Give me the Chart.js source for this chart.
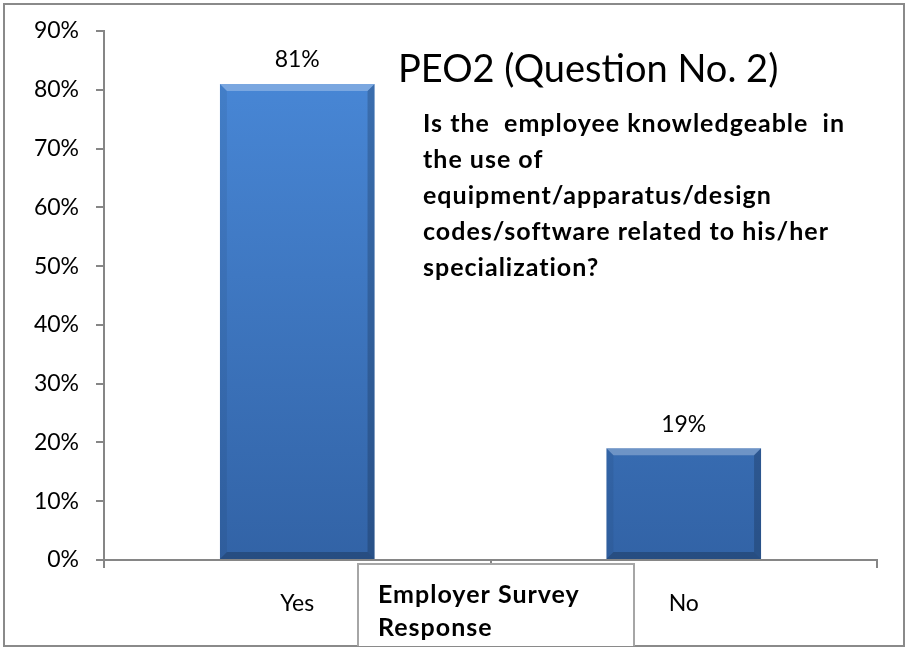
<!DOCTYPE html>
<html>
<head>
<meta charset="utf-8">
<script src="https://cdn.jsdelivr.net/npm/chart.js"></script>
<style>
  html, body { margin: 0; padding: 0; background: #fff; }
</style>
</head>
<body>
<canvas id="myChart" width="906" height="648"></canvas>
<script>
const categories = ['Yes', 'No'];
const values = [81, 19];
const yMax = 90;
const yStep = 10;
const chartTitle = 'PEO2 (Question No. 2)';
const question = [
  'Is the  employee knowledgeable  in',
  'the use of',
  'equipment/apparatus/design',
  'codes/software related to his/her',
  'specialization?'
];
const axisTitle = ['Employer Survey', 'Response'];

const FONT = 'Lato, "Open Sans", sans-serif';
const GREY = '#868686';

// frame, bar bevels, value labels, title texts and the axis title box
const decor = {
  id: 'decor',
  beforeDraw(chart) {
    const c = chart.ctx;
    c.save();
    c.fillStyle = '#fff';
    c.fillRect(0, 0, chart.width, chart.height);
    c.restore();
  },
  afterDatasetsDraw(chart) {
    const c = chart.ctx;
    const meta = chart.getDatasetMeta(0);
    c.save();
    meta.data.forEach((bar, i) => {
      const l = bar.x - bar.width / 2, r = bar.x + bar.width / 2;
      const t = bar.y, b = bar.base, k = 7;
      const poly = (pts, col) => {
        c.beginPath();
        c.moveTo(pts[0][0], pts[0][1]);
        pts.slice(1).forEach(p => c.lineTo(p[0], p[1]));
        c.closePath();
        c.fillStyle = col;
        c.fill();
      };
      poly([[l, t], [r, t], [r - k, t + k], [l + k, t + k]], 'rgba(255,255,255,0.28)');
      poly([[l, t], [l + k, t + k], [l + k, b - k], [l, b]], 'rgba(0,0,0,0.06)');
      poly([[r, t], [r - k, t + k], [r - k, b - k], [r, b]], 'rgba(0,0,0,0.18)');
      poly([[l, b], [l + k, b - k], [r - k, b - k], [r, b]], 'rgba(0,0,0,0.22)');

      c.fillStyle = '#000';
      c.font = '23px ' + FONT;
      c.textAlign = 'center';
      c.textBaseline = 'middle';
      c.fillText(values[i] + '%', bar.x, t - 24);
    });
    c.restore();
  },
  afterDraw(chart) {
    const c = chart.ctx;
    c.save();
    // outer frame
    c.strokeStyle = '#8a8a8a';
    c.lineWidth = 2;
    c.strokeRect(4, 4, 900, 642);

    // title and question
    c.fillStyle = '#000';
    c.textAlign = 'left';
    c.textBaseline = 'middle';
    c.font = '38px ' + FONT;
    c.fillText(chartTitle, 398, 70);
    c.font = 'bold 25px ' + FONT;
    c.letterSpacing = '1px';
    question.forEach((line, i) => c.fillText(line, 423, 124 + i * 36));

    // axis title box
    c.letterSpacing = '0px';
    c.fillStyle = '#fff';
    c.fillRect(357, 563, 277, 83);
    c.strokeStyle = '#a6a6a6';
    c.lineWidth = 2;
    c.beginPath();
    c.moveTo(358, 646);
    c.lineTo(358, 564);
    c.lineTo(634, 564);
    c.lineTo(634, 646);
    c.stroke();
    c.fillStyle = '#000';
    c.font = 'bold 25px ' + FONT;
    c.letterSpacing = '1px';
    axisTitle.forEach((line, i) => c.fillText(line, 378, 595 + i * 33));
    c.restore();
  }
};

const ctx = document.getElementById('myChart');

new Chart(ctx, {
  type: 'bar',
  data: {
    labels: categories,
    datasets: [{
      data: values,
      backgroundColor: (context) => {
        const area = context.chart.chartArea;
        if (!area) return '#4080cc';
        const g = context.chart.ctx.createLinearGradient(0, area.top, 0, area.bottom);
        g.addColorStop(0, '#4a8ada');
        g.addColorStop(1, '#3263a6');
        return g;
      },
      borderWidth: 0,
      categoryPercentage: 1,
      barPercentage: 0.4
    }]
  },
  options: {
    responsive: false,
    animation: false,
    layout: {
      padding: { left: 0, top: 31, right: 29, bottom: 0 }
    },
    plugins: {
      legend: { display: false },
      tooltip: { enabled: false }
    },
    scales: {
      x: {
        grid: {
          offset: true,
          drawOnChartArea: false,
          tickLength: 8,
          color: GREY,
          lineWidth: 2
        },
        border: { color: GREY, width: 2 },
        ticks: {
          color: '#000',
          padding: 22,
          font: { family: FONT, size: 23 }
        },
        afterFit: (s) => { s.height = 88; }
      },
      y: {
        min: 0,
        max: yMax,
        grid: {
          drawOnChartArea: false,
          tickLength: 8,
          color: GREY,
          lineWidth: 2
        },
        border: { color: GREY, width: 2 },
        ticks: {
          stepSize: yStep,
          color: '#000',
          padding: 17,
          font: { family: FONT, size: 23 },
          callback: (v) => v + '%'
        },
        afterFit: (s) => { s.width = 104; }
      }
    }
  },
  plugins: [decor]
});
</script>
</body>
</html>
